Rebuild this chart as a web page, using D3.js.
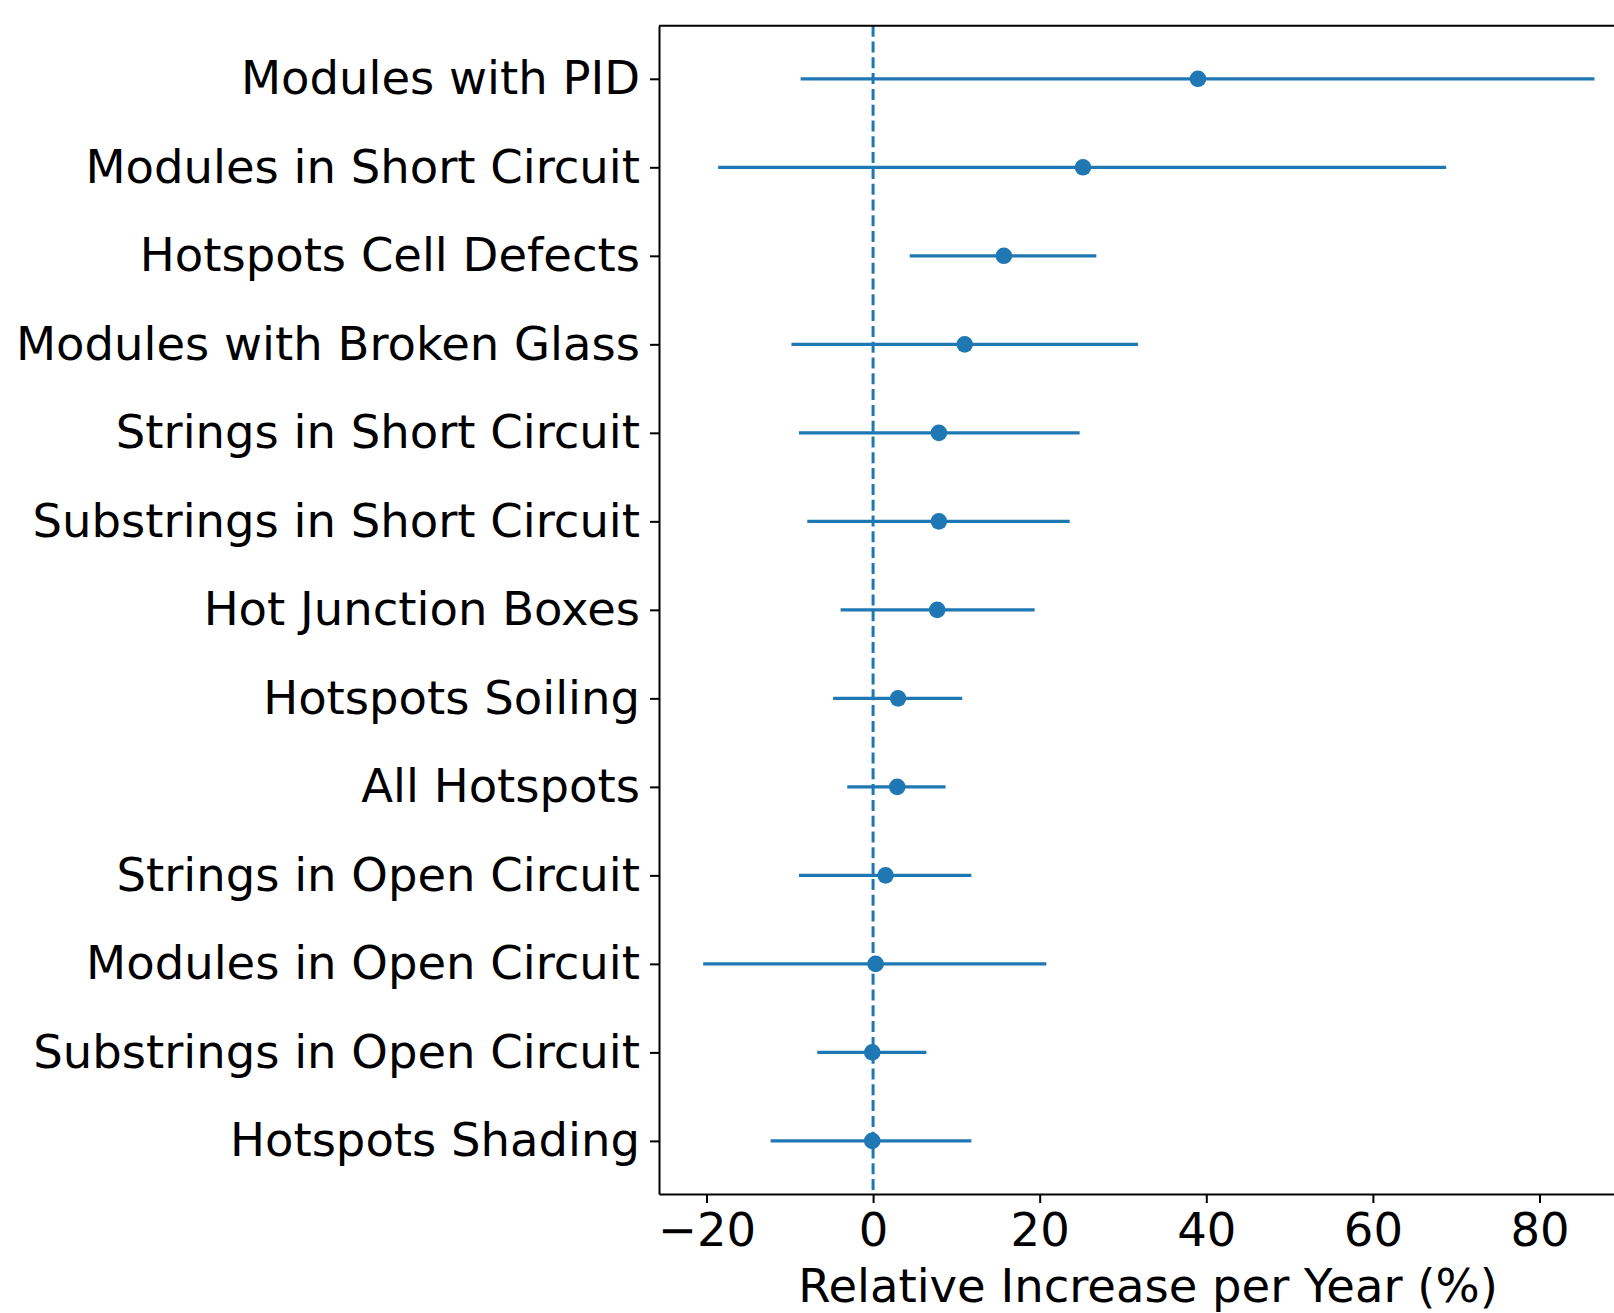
<!DOCTYPE html>
<html>
<head>
<meta charset="utf-8">
<script src="https://cdn.jsdelivr.net/npm/d3@7"></script>
<style>
  body { margin: 0; background: #fff; }
  text { font-family: "DejaVu Sans", sans-serif; }
</style>
</head>
<body>
<div id="chart"></div>
<script>
const categories = [
  "Modules with PID",
  "Modules in Short Circuit",
  "Hotspots Cell Defects",
  "Modules with Broken Glass",
  "Strings in Short Circuit",
  "Substrings in Short Circuit",
  "Hot Junction Boxes",
  "Hotspots Soiling",
  "All Hotspots",
  "Strings in Open Circuit",
  "Modules in Open Circuit",
  "Substrings in Open Circuit",
  "Hotspots Shading"
]
const estimates = [39.0, 25.2, 15.7, 11.0, 7.9, 7.9, 7.7, 3.0, 2.9, 1.5, 0.3, -0.1, -0.1]
const lower = [-8.7, -18.6, 4.4, -9.8, -8.9, -7.9, -3.9, -4.8, -3.1, -8.9, -20.4, -6.7, -12.3]
const upper = [86.6, 68.8, 26.8, 31.8, 24.8, 23.6, 19.4, 10.7, 8.7, 11.8, 20.8, 6.4, 11.8]
const xTicks = [-20, 0, 20, 40, 60, 80]
const xLabel = "Relative Increase per Year (%)"

const width = 1614, height = 1313
const plotLeft = 659, plotTop = 25.7, plotBottom = 1194
const color = "#1f77b4"
const fontSize = 46.5

const rows = categories.map((c, i) => ({
    name: c, est: estimates[i], lo: lower[i], hi: upper[i]
}))

const svg = d3.select("#chart")
    .append("svg")
    .attr("width", width)
    .attr("height", height)

const x = d3.scaleLinear().domain([-25.7, 91.8]).range([plotLeft, plotLeft + 117.5 * 8.33])
const y = d3.scalePoint().domain(categories).range([plotTop, plotBottom]).padding(0.6)

// zero reference line
svg.append("line")
    .attr("x1", x(0)).attr("x2", x(0))
    .attr("y1", plotTop).attr("y2", plotBottom)
    .attr("stroke", color)
    .attr("stroke-width", 3)
    .attr("stroke-dasharray", "11,4.8")

// error bars
svg.append("g").selectAll("line")
    .data(rows)
    .enter()
    .append("line")
    .attr("x1", d => x(d.lo))
    .attr("x2", d => x(d.hi))
    .attr("y1", d => y(d.name))
    .attr("y2", d => y(d.name))
    .attr("stroke", color)
    .attr("stroke-width", 3.3)

svg.append("g").selectAll("circle")
    .data(rows)
    .enter()
    .append("circle")
    .attr("cx", d => x(d.est))
    .attr("cy", d => y(d.name))
    .attr("r", 8.3)
    .attr("fill", color)

// axes
const yAxis = svg.append("g")
    .attr("transform", `translate(${plotLeft},0)`)
    .call(d3.axisLeft(y).tickSize(9).tickSizeOuter(0).tickPadding(10))
yAxis.selectAll("text").attr("font-size", fontSize).attr("fill", "#000")

const xAxis = svg.append("g")
    .attr("transform", `translate(0,${plotBottom})`)
    .call(d3.axisBottom(x).tickValues(xTicks).tickSize(9).tickSizeOuter(0).tickPadding(10))
xAxis.selectAll("text").attr("font-size", fontSize).attr("fill", "#000")

svg.selectAll(".domain, .tick line")
    .attr("stroke", "#000")
    .attr("stroke-width", 2)

svg.append("line")
    .attr("x1", plotLeft).attr("x2", width)
    .attr("y1", plotTop).attr("y2", plotTop)
    .attr("stroke", "#000")
    .attr("stroke-width", 2)

svg.append("text")
    .attr("x", 1148)
    .attr("y", 1302)
    .attr("text-anchor", "middle")
    .attr("font-size", fontSize)
    .text(xLabel)
</script>
</body>
</html>
